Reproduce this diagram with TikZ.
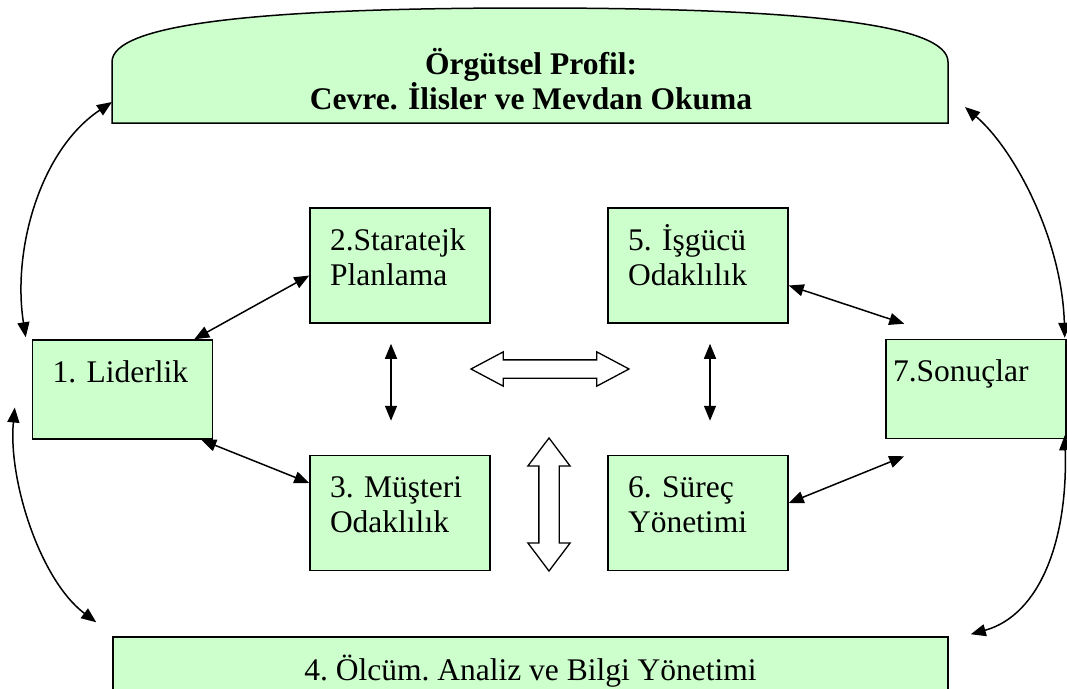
\documentclass[tikz,border=0pt]{standalone}
\usepackage{fontspec}
\setmainfont{Liberation Serif}
\usetikzlibrary{arrows.meta,shapes.arrows}
\definecolor{acikyesil}{RGB}{204,255,204}

\begin{document}
\begin{tikzpicture}[
    x=1pt,
    y=-1pt,
    kutu/.style={
        draw,
        fill=acikyesil,
        line width=1.5pt,
        font=\fontsize{31.5}{35}\selectfont\frenchspacing,
        text width=140pt,
        align=left,
        inner xsep=20pt,
        inner ysep=12pt,
        text height=30pt
    },
    ikili/.style={kutu, text depth=61pt},
    tekli/.style={kutu, text depth=45pt},
    ok/.style={
        line width=1.5pt,
        <->,
        >={Triangle[length=15pt,width=12pt]}
    },
    bosok/.style={
        double arrow,
        draw,
        fill=white,
        line width=1.3pt,
        double arrow head indent=0pt,
        inner xsep=0pt
    }
]
\useasboundingbox (0,0) rectangle (1067,688);

% Top profile box
\draw[line width=1.5pt, fill=acikyesil]
    (112,123) -- (112,62) .. controls (112,25) and (250,8) .. (530,8)
    .. controls (810,8) and (948,25) .. (948,62) -- (948,123) -- cycle;
\node[font=\fontsize{31.5}{30}\selectfont\bfseries, align=center, inner sep=0pt]
    (profil) at (531,79) {Örgütsel Profil:\\Cevre. İlisler ve Mevdan Okuma};
\coordinate (profilsol) at (112,102);
\coordinate (profilsag) at (965,107);

% Criteria boxes
\node[tekli] (lider) at (122.5,389.5) {1. Liderlik};
\node[ikili] (strat) at (400,265.5) {2.Staratejk\\Planlama};
\node[ikili] (must) at (400,513) {3. Müşteri\\Odaklılık};
\node[ikili] (isgucu) at (698,265.5) {5. İşgücü\\Odaklılık};
\node[ikili] (surec) at (698,513) {6. Süreç\\Yönetimi};
\node[tekli, inner xsep=7pt, text width=166pt] (sonuc) at (976,389) {7.Sonuçlar};

% Bottom box
\node[draw, fill=acikyesil, line width=1.5pt, font=\fontsize{31.5}{35}\selectfont\frenchspacing,
    minimum width=835pt, minimum height=66pt, text height=28pt, text depth=7pt]
    (olcum) at (530.5,670) {4. Ölcüm. Analiz ve Bilgi Yönetimi};

% Hollow arrows in the middle
\node[bosok, inner ysep=8.5pt, minimum height=158pt, minimum width=33pt,
    double arrow head extend=8pt, double arrow tip angle=56] (yatayok) at (550,369) {};
\node[bosok, rotate=90, inner ysep=9.5pt, minimum height=133pt, minimum width=41pt,
    double arrow head extend=11pt, double arrow tip angle=74] (dikeyok) at (549,504.5) {};

% Links of 1. Liderlik
\draw[ok] ([xshift=-19pt]lider.north east) -- ([yshift=-10pt]strat.west);
\draw[ok] ([xshift=-12pt]lider.south east) -- ([yshift=30pt]must.west);

% Vertical links
\draw[ok] ([xshift=-9pt,yshift=-20pt]strat.south) -- ([xshift=-9pt,yshift=34pt]must.north);
\draw[ok] ([xshift=12pt,yshift=-20pt]isgucu.south) -- ([xshift=12pt,yshift=34pt]surec.north);

% Links of 7.Sonuclar
\draw[ok] ([yshift=-20pt]isgucu.east) -- ([xshift=19pt,yshift=15pt]sonuc.north west);
\draw[ok] ([yshift=10pt]surec.east) -- ([xshift=19pt,yshift=-17pt]sonuc.south west);

% Outer curved links
\draw[ok] (profilsol) .. controls (40,150) and (12,250) .. ([xshift=-6pt,yshift=2pt]lider.north west);
\draw[ok] (profilsag) .. controls (1015,150) and (1062,240) .. ([xshift=-2pt,yshift=1pt]sonuc.north east);
\draw[ok] ([xshift=-17pt,yshift=-18pt]lider.west) .. controls (8,480) and (40,580) .. ([xshift=-16pt,yshift=14pt]olcum.north west);
\draw[ok] ([xshift=-2pt,yshift=4pt]sonuc.south east) .. controls (1068,540) and (1040,615) .. ([xshift=22pt,yshift=2pt]olcum.north east);
\end{tikzpicture}
\end{document}
